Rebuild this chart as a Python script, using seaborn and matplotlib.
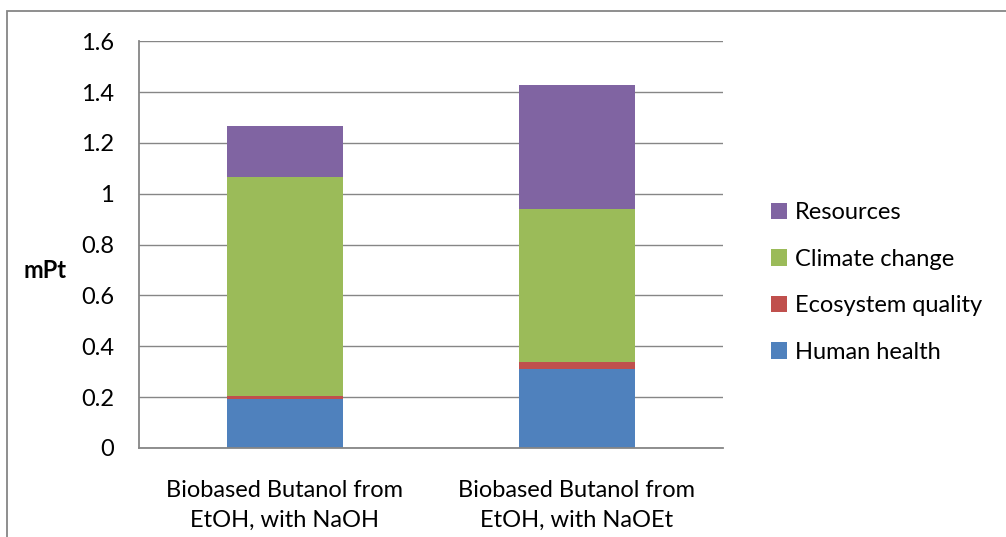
import numpy as np
import pandas as pd
import seaborn as sns
import matplotlib.pyplot as plt
from matplotlib.patches import Patch, Rectangle

# values (mPt)
categories = ["Biobased Butanol from\nEtOH, with NaOH", "Biobased Butanol from\nEtOH, with NaOEt"]
human_health = [0.193, 0.311]
ecosystem_quality = [0.012, 0.028]
climate_change = [0.862, 0.602]
resources = [0.201, 0.488]

series_names = ["Human health", "Ecosystem quality", "Climate change", "Resources"]
series_colors = ["#4F81BD", "#C0504D", "#9BBB59", "#8064A2"]
y_ticks = [0, 0.2, 0.4, 0.6, 0.8, 1.0, 1.2, 1.4, 1.6]
y_tick_labels = ["0", "0.2", "0.4", "0.6", "0.8", "1", "1.2", "1.4", "1.6"]

sns.set_style("white")
plt.rcParams["font.family"] = ["Lato", "DejaVu Sans"]
plt.rcParams["text.color"] = "black"
plt.rcParams["xtick.labelcolor"] = "black"
plt.rcParams["ytick.labelcolor"] = "black"
plt.rcParams["axes.labelcolor"] = "black"

df = pd.DataFrame({"category": categories,
                   "Human health": human_health,
                   "Ecosystem quality": ecosystem_quality,
                   "Climate change": climate_change,
                   "Resources": resources})
# cumulative heights, drawn from the top down so each layer covers the one above
cum = df[series_names].cumsum(axis=1)

fig = plt.figure(figsize=(10.06, 5.37), dpi=100)
ax = fig.add_axes([139 / 1006, 1 - 448 / 537, 584 / 1006, 406.7 / 537])

grid_c = "#868686"
ax.set_axisbelow(True)
ax.yaxis.grid(True, color=grid_c, linewidth=1.0)
for name, col in reversed(list(zip(series_names, series_colors))):
    sns.barplot(x=df["category"], y=cum[name], color=col, width=0.4,
                saturation=1, errorbar=None, linewidth=0, ax=ax)

ax.set_xlim(-0.5, 1.5)
ax.set_ylim(0, 1.6)
ax.set_yticks(y_ticks)
ax.set_yticklabels(y_tick_labels)
ax.set_xlabel("")
ax.set_ylabel("mPt", rotation=0, fontsize=17, fontweight="bold", ha="center", va="center")
ax.yaxis.set_label_coords((45 - 139) / 584, (448 - 270) / 406.7)

for s in ["top", "right"]:
    ax.spines[s].set_visible(False)
for s in ["left", "bottom"]:
    ax.spines[s].set_color(grid_c)
    ax.spines[s].set_linewidth(1.3)

ax.tick_params(axis="y", length=5, width=1.3, color=grid_c, labelsize=17, pad=13)
ax.tick_params(axis="x", which="major", length=0, labelsize=17, pad=23)
ax.set_xticks([-0.5, 0.5, 1.5], minor=True)
ax.tick_params(axis="x", which="minor", length=6, width=1.3, color=grid_c)
for lab in ax.get_xticklabels():
    lab.set_linespacing(1.5)

handles = [Patch(facecolor=c, edgecolor="none", label=n)
           for n, c in zip(series_names, series_colors)][::-1]
fig.legend(handles=handles, loc="upper left",
           bbox_to_anchor=(750 / 1006, 1 - 181 / 537), frameon=False,
           fontsize=17, handlelength=0.68, handleheight=0.68,
           handletextpad=0.34, labelspacing=1.08)

# outer chart-area border
fig.patches.append(Rectangle((7 / 1006, -0.2), 1.2, 1.2 - 11 / 537,
                             transform=fig.transFigure, fill=False,
                             edgecolor=grid_c, linewidth=1.3))

fig.savefig("out.png", dpi=100)
